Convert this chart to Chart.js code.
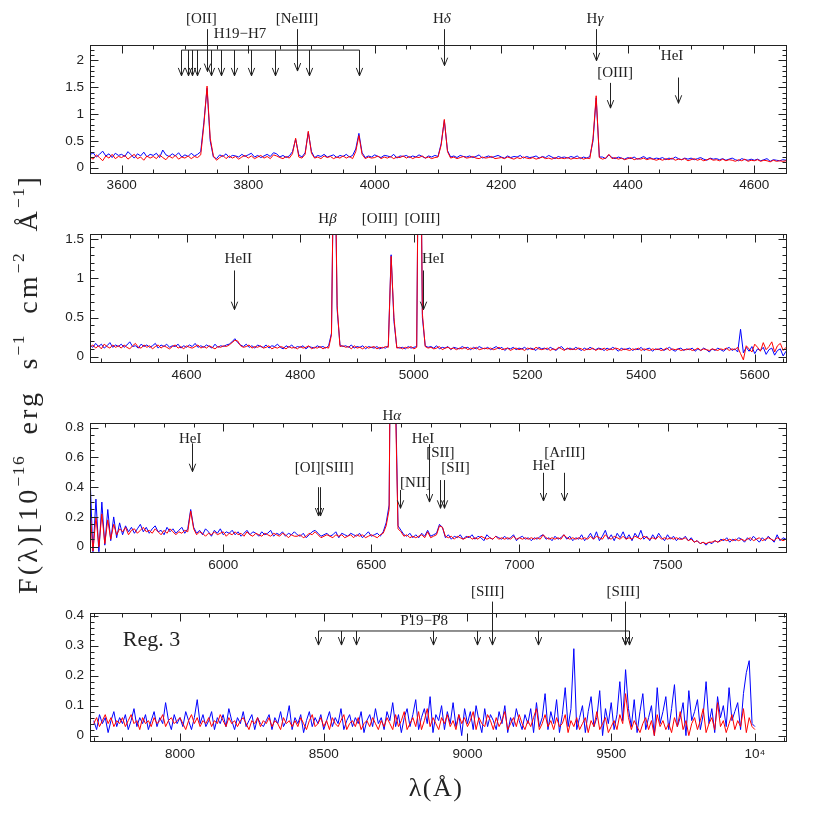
<!DOCTYPE html>
<html>
<head>
<meta charset="utf-8">
<script src="https://cdn.jsdelivr.net/npm/chart.js@4.4.1/dist/chart.umd.min.js"></script>
<style>
  body { margin: 0; background: #fff; }
  #wrap { position: relative; width: 830px; height: 830px; overflow: hidden; }
  canvas { position: absolute; left: 0; }
  .title { position: absolute; white-space: nowrap; color: #222; font-family: "Liberation Serif", "DejaVu Serif", serif; transform: translate(-50%, -50%); }
  #ytitle { left: 28px; top: 384px; font-size: 28px; letter-spacing: 3.2px; word-spacing: 10px; transform: translate(-50%, -50%) rotate(-90deg); }
  #ytitle sup { font-size: 0.62em; vertical-align: 0.75em; line-height: 0; letter-spacing: 1.5px; }
  #xtitle { left: 436px; top: 788px; font-size: 26px; letter-spacing: 1.5px; }
</style>
</head>
<body>
<div id="wrap">
  <canvas id="c1" width="830" height="200" style="top:0px"></canvas>
  <canvas id="c2" width="830" height="190" style="top:200px"></canvas>
  <canvas id="c3" width="830" height="190" style="top:390px"></canvas>
  <canvas id="c4" width="830" height="250" style="top:580px"></canvas>
  <div id="ytitle" class="title">F(λ)[10<sup>−16</sup> erg s<sup>−1</sup> cm<sup>−2</sup> Å<sup>−1</sup>]</div>
  <div id="xtitle" class="title">λ(Å)</div>
</div>
<script>
// ---- panel 1: 3550-4650 A, 5 A grid ----
var p1Start = 3550, p1Step = 5;
var p1Blue = [
  .24,.28,.20,.25,.31,.22,.26,.19,.27,.23, .25,.21,.30,.24,.18,.26,.22,.29,.20,.25,
  .23,.27,.19,.33,.24,.21,.26,.22,.28,.20, .24,.21,.27,.22,.25,.30,.85,1.48,.50,.20,
  .17,.24,.21,.26,.19,.23,.22,.20,.25,.21, .24,.27,.20,.23,.19,.22,.25,.21,.28,.26,
  .20,.23,.19,.22,.30,.53,.24,.20,.28,.66, .30,.19,.23,.21,.25,.20,.22,.24,.19,.23,
  .21,.25,.20,.23,.35,.64,.28,.19,.22,.20, .24,.21,.19,.23,.22,.20,.25,.18,.22,.21,
  .23,.19,.22,.20,.24,.21,.18,.22,.20,.23, .21,.45,.88,.32,.20,.22,.19,.23,.21,.20,
  .22,.19,.21,.24,.18,.20,.22,.19,.21,.23, .20,.18,.22,.19,.21,.20,.23,.18,.21,.19,
  .20,.22,.18,.21,.19,.23,.20,.17,.21,.19, .20,.18,.21,.19,.22,.17,.20,.18,.21,.50,
  1.30,.20,.20,.17,.24,.19,.17,.20,.18,.16, .19,.17,.20,.16,.18,.21,.17,.19,.16,.18,
  .17,.19,.15,.18,.16,.20,.17,.15,.18,.16, .18,.15,.17,.19,.16,.14,.18,.16,.17,.15,
  .17,.14,.16,.18,.15,.13,.17,.15,.14,.16, .14,.16,.13,.15,.17,.12,.15,.14,.13,.15,.14
];
var p1Red = [
  .20,.16,.24,.19,.13,.22,.18,.25,.17,.21, .19,.23,.16,.21,.25,.17,.20,.14,.22,.18,
  .21,.17,.24,.19,.15,.22,.18,.23,.16,.20, .18,.22,.17,.21,.19,.24,.80,1.52,.55,.22,
  .14,.19,.23,.17,.22,.18,.21,.16,.20,.23, .18,.22,.17,.20,.23,.18,.21,.17,.24,.22,
  .19,.17,.21,.18,.26,.55,.20,.18,.25,.68, .27,.18,.20,.17,.22,.19,.21,.17,.20,.18,
  .22,.18,.21,.17,.30,.60,.25,.17,.20,.18, .19,.22,.17,.20,.18,.21,.17,.20,.19,.22,
  .18,.21,.17,.20,.19,.22,.18,.20,.17,.19, .20,.42,.90,.30,.18,.20,.17,.19,.21,.18,
  .19,.21,.18,.17,.20,.18,.19,.21,.17,.18, .19,.17,.20,.18,.16,.19,.17,.20,.18,.17,
  .19,.16,.18,.20,.17,.18,.16,.19,.17,.18, .17,.19,.16,.18,.17,.19,.16,.18,.17,.55,
  1.34,.19,.16,.18,.25,.17,.19,.16,.18,.15, .17,.19,.15,.17,.16,.18,.15,.17,.16,.14,
  .16,.14,.17,.15,.18,.14,.16,.15,.17,.13, .15,.17,.14,.16,.13,.15,.17,.14,.15,.13,
  .16,.13,.15,.14,.12,.15,.13,.16,.12,.14, .13,.15,.12,.14,.13,.11,.14,.12,.13,.12,.13
];
var p1XTicks = [3600, 3800, 4000, 4200, 4400, 4600];
var p1YTicks = [0, 0.5, 1, 1.5, 2];
var p1HSeries = [3693.8, 3704.4, 3711.7, 3718.6, 3741.2, 3757.5, 3777.1, 3804.9, 3842.9, 3896.6, 3975.6];

// ---- panel 2: 4430-5655 A, 5 A grid ----
var p2Start = 4430, p2Step = 5;
var p2Blue = [
  .15,.12,.17,.13,.16,.11,.14,.18,.12,.15, .13,.16,.12,.15,.19,.13,.14,.11,.16,.13,
  .15,.12,.14,.17,.11,.15,.13,.16,.12,.14, .13,.16,.11,.14,.12,.15,.13,.17,.12,.14,
  .12,.15,.13,.11,.16,.12,.14,.13,.15,.16, .19,.23,.18,.15,.13,.16,.12,.14,.11,.15,
  .13,.12,.15,.11,.14,.13,.16,.12,.10,.14, .12,.15,.11,.13,.12,.14,.10,.13,.12,.11,
  .14,.12,.13,.11,.14,.30,3.2,.60,.15,.13, .14,.12,.15,.11,.13,.12,.14,.10,.13,.12,
  .11,.13,.10,.12,.11,.14,1.30,.45,.12,.11, .12,.10,.13,.11,.12,.13,4.5,.50,.14,.12,
  .13,.11,.14,.10,.12,.11,.13,.09,.12,.11, .10,.13,.11,.12,.09,.12,.10,.13,.11,.10,
  .12,.09,.11,.13,.10,.12,.08,.11,.10,.12, .09,.11,.10,.12,.09,.11,.10,.08,.12,.10,
  .11,.09,.12,.10,.08,.11,.13,.09,.10,.11, .09,.12,.10,.08,.11,.09,.12,.10,.09,.11,
  .10,.08,.11,.09,.12,.10,.07,.11,.09,.10, .11,.08,.10,.09,.12,.08,.10,.11,.07,.10,
  .09,.11,.08,.10,.12,.09,.07,.10,.11,.08, .10,.09,.11,.07,.10,.08,.11,.09,.06,.10,
  .08,.11,.09,.07,.10,.12,.08,.10,.06,.35, .05,.12,.07,.13,.04,.10,.08,.12,.03,.09,
  .11,.02,.08,.10,.01,.07
];
var p2Red = [
  .12,.15,.11,.14,.10,.16,.13,.11,.15,.12, .14,.11,.15,.12,.10,.14,.17,.12,.11,.15,
  .12,.14,.10,.13,.15,.11,.14,.12,.10,.13, .15,.11,.13,.10,.14,.12,.11,.13,.15,.11,
  .13,.11,.14,.12,.10,.13,.12,.14,.13,.15, .18,.21,.20,.14,.12,.13,.15,.11,.13,.12,
  .14,.11,.12,.14,.10,.12,.11,.13,.12,.10, .13,.11,.12,.10,.13,.11,.12,.14,.10,.12,
  .11,.13,.10,.12,.11,.28,3.3,.65,.13,.14, .12,.13,.10,.14,.11,.12,.10,.13,.11,.12,
  .13,.10,.12,.11,.13,.12,1.28,.50,.11,.12, .10,.12,.11,.13,.10,.12,4.6,.55,.13,.11,
  .12,.10,.11,.13,.09,.11,.12,.10,.11,.09, .11,.10,.12,.09,.11,.10,.12,.09,.10,.11,
  .10,.11,.09,.10,.12,.09,.10,.11,.08,.10, .11,.09,.10,.08,.11,.10,.09,.12,.10,.09,
  .10,.11,.08,.10,.09,.12,.10,.08,.11,.09, .10,.09,.11,.10,.08,.10,.09,.11,.08,.10,
  .09,.11,.08,.10,.09,.11,.10,.08,.10,.09, .08,.10,.09,.11,.08,.10,.09,.08,.10,.09,
  .10,.08,.09,.11,.08,.10,.09,.10,.08,.09, .09,.10,.08,.09,.11,.08,.10,.09,.08,.10,
  .09,.08,.10,.09,.11,.08,.10,.09,.12,.04, -.04,.14,.10,.06,.16,.12,.07,.18,.09,.13,
  .19,.06,.14,.17,.08,.12
];
var p2XTicks = [4600, 4800, 5000, 5200, 5400, 5600];
var p2YTicks = [0, 0.5, 1, 1.5];

// ---- panel 3: 5550-7900 A, 10 A grid ----
var p3Start = 5550, p3Step = 10;
var p3Blue = [
  .48,-.05,.32,-.04,.30,.01,.25,.04,.20,.06, .16,.08,.14,.10,.13,.09,.12,.15,.10,.13,
  .09,.12,.14,.10,.11,.08,.13,.10,.12,.09, .11,.13,.09,.12,.25,.13,.09,.11,.08,.12,
  .10,.07,.11,.09,.12,.08,.10,.09,.11,.08, .10,.07,.09,.11,.08,.10,.09,.07,.10,.08,
  .09,.11,.07,.09,.08,.10,.07,.09,.08,.10, .08,.07,.09,.06,.08,.10,.11,.09,.07,.08,
  .09,.07,.08,.10,.06,.09,.08,.07,.09,.08, .07,.09,.06,.08,.10,.07,.08,.09,.07,.10,
  .16,.28,2.8,1.2,.14,.11,.08,.07,.09,.06, .08,.06,.09,.07,.11,.07,.08,.09,.15,.13,
  .06,.08,.05,.07,.06,.08,.05,.07,.06,.08, .05,.07,.06,.04,.08,.06,.05,.07,.06,.05,
  .07,.05,.06,.08,.04,.06,.07,.05,.06,.04, .06,.05,.07,.08,.05,.06,.04,.07,.05,.06,
  .08,.05,.07,.04,.06,.05,.08,.04,.06,.09, .05,.10,.04,.07,.11,.05,.08,.04,.09,.06,
  .10,.05,.08,.04,.09,.06,.11,.05,.07,.04, .08,.05,.09,.06,.04,.08,.05,.07,.04,.06,
  .05,.07,.04,.06,.03,.04,.02,.03,.01,.03, .02,.04,.03,.05,.04,.06,.03,.05,.04,.06,
  .05,.03,.06,.04,.07,.05,.03,.06,.04,.07, .05,.03,.08,.04,.06,.05
];
var p3Red = [
  .25,-.03,.20,.00,.22,.02,.18,.05,.15,.08, .12,.10,.13,.08,.11,.12,.09,.11,.13,.10,
  .11,.09,.12,.10,.08,.11,.09,.12,.10,.08, .10,.09,.11,.10,.24,.12,.08,.10,.09,.07,
  .09,.08,.10,.08,.09,.10,.07,.09,.08,.10, .08,.09,.07,.10,.08,.07,.09,.08,.07,.09,
  .08,.07,.09,.08,.07,.09,.08,.06,.08,.07, .07,.08,.06,.07,.09,.08,.10,.08,.06,.07,
  .08,.07,.06,.08,.07,.08,.06,.07,.08,.06, .08,.07,.08,.06,.07,.08,.07,.06,.08,.09,
  .14,.25,3.0,1.1,.12,.10,.07,.08,.06,.07, .06,.07,.08,.06,.10,.06,.07,.08,.14,.13,
  .07,.06,.07,.05,.07,.06,.05,.06,.07,.05, .06,.05,.07,.06,.05,.06,.05,.07,.05,.06,
  .05,.06,.05,.07,.05,.06,.05,.06,.05,.06, .05,.06,.05,.08,.06,.05,.06,.05,.06,.05,
  .08,.06,.05,.06,.05,.06,.05,.06,.05,.07, .05,.07,.06,.05,.08,.06,.05,.07,.06,.05,
  .07,.05,.06,.05,.07,.06,.05,.07,.06,.05, .06,.05,.07,.05,.06,.05,.06,.05,.06,.05,
  .05,.06,.04,.05,.03,.04,.02,.03,.02,.03, .03,.04,.03,.04,.05,.04,.05,.04,.05,.04,
  .05,.04,.05,.06,.04,.05,.06,.04,.05,.06, .05,.04,.06,.05,.04,.05
];
var p3XTicks = [6000, 6500, 7000, 7500];
var p3YTicks = [0, 0.2, 0.4, 0.6, 0.8];

// ---- panel 4: 7700-10000 A, 10 A grid ----
var p4Start = 7700, p4Step = 10;
var p4Blue = [
  .05,.02,.07,.04,.06,.01,.05,.08,.03,.06, .04,.07,.02,.05,.09,.03,.06,.04,.07,.02,
  .05,.08,.03,.06,.04,.11,.05,.02,.07,.04, .06,.03,.08,.05,.02,.06,.12,.04,.07,.03,
  .05,.08,.02,.06,.04,.07,.03,.09,.05,.02, .06,.04,.08,.03,.05,.07,.02,.06,.04,.03,
  .05,.07,.02,.06,.04,.08,.03,.05,.10,.02, .06,.04,.07,.01,.05,.08,.03,.06,.04,.07,
  .02,.05,.08,.03,.06,.04,.09,.02,.05,.07, .03,.06,.04,.08,.01,.05,.07,.03,.09,.04,
  .06,.02,.08,.05,.11,.03,.07,.01,.06,.09, .03,.07,.12,.02,.06,.09,.04,.13,.01,.07,
  .05,.10,.02,.08,.04,.11,.03,.07,.00,.09, .04,.08,.02,.10,.05,.01,.09,.03,.07,.05,
  .02,.08,.04,.10,.01,.06,.03,.09,.05,.02, .07,.04,.09,.01,.11,.03,.06,.14,.02,.08,
  .04,.12,.01,.07,.16,.03,.09,.29,.02,.06, .10,.01,.08,.13,.03,.06,.15,.00,.09,.04,
  .11,.02,.07,.18,.05,.22,.09,.03,.12,.01, .08,.14,.02,.06,.10,.00,.16,.04,.08,.13,
  .02,.09,.17,.03,.06,.11,.00,.15,.05,.08, .12,.02,.07,.18,.04,.09,.01,.13,.06,.10,
  .03,.16,.05,.08,.11,.02,.14,.21,.25,.04, .03
];
var p4Red = [
  .04,.06,.03,.05,.07,.04,.06,.03,.05,.04, .06,.03,.05,.07,.04,.05,.02,.06,.04,.05,
  .03,.06,.04,.05,.07,.03,.05,.06,.04,.05, .06,.04,.02,.05,.07,.04,.06,.03,.05,.04,
  .06,.03,.05,.04,.07,.05,.03,.06,.04,.05, .03,.05,.06,.04,.02,.05,.04,.06,.03,.05,
  .04,.06,.03,.05,.04,.02,.06,.04,.05,.03, .05,.03,.06,.04,.02,.05,.07,.03,.04,.06,
  .03,.05,.02,.06,.04,.03,.05,.07,.02,.04, .05,.03,.06,.02,.04,.05,.03,.06,.04,.02,
  .05,.03,.06,.04,.02,.07,.03,.05,.08,.02, .04,.06,.03,.08,.02,.05,.09,.03,.06,.04,
  .02,.06,.04,.07,.03,.05,.02,.07,.04,.06, .03,.05,.08,.02,.06,.04,.03,.07,.05,.02,
  .06,.03,.05,.08,.02,.04,.06,.03,.07,.04, .02,.05,.03,.06,.09,.02,.04,.07,.03,.05,
  .02,.06,.03,.04,.07,.01,.05,.03,.06,.02, .04,.06,.01,.05,.03,.08,.02,.04,.06,.01,
  .03,.05,.02,.07,.04,.14,.06,.02,.05,.03, .01,.04,.06,.02,.05,.00,.07,.03,.05,.02,
  .04,.01,.06,.03,.08,.02,.05,.00,.04,.06, .02,.05,.09,.01,.04,.06,.02,.11,.03,.05,
  .01,.04,.07,.02,.05,.03,.09,.01,.06,.03, .02
];
var p4XTicks = [8000, 8500, 9000, 9500, 10000];
var p4YTicks = [0, 0.1, 0.2, 0.3, 0.4];
var p4Paschen = [8481, 8560, 8612, 8881, 9032, 9244, 9548, 9563];

var INK = '#222';
var LABEL_FONT = '15px "Liberation Serif", "DejaVu Serif", serif';
var TICK_FONT = { family: '"Liberation Sans", Arial, sans-serif', size: 13.5 };

function toPoints(start, step, flux) {
  return flux.map(function(f, i) { return { x: start + i * step, y: f }; });
}

function fmt(v) {
  if (v === 10000) return '10\u2074';
  return String(Math.round(v * 1000) / 1000);
}

// label text, greek letter after H drawn in italic
function drawLabel(ctx, text, x, y, font, align) {
  ctx.font = font || LABEL_FONT;
  ctx.textBaseline = 'middle';
  var m = text.match(/^H([αβγδ])$/);
  if (!m) {
    ctx.textAlign = align || 'center';
    ctx.fillText(text, x, y);
    return;
  }
  var w1 = ctx.measureText('H').width;
  ctx.font = 'italic ' + LABEL_FONT;
  var w2 = ctx.measureText(m[1]).width;
  var x0 = x - (w1 + w2) / 2;
  ctx.textAlign = 'left';
  ctx.font = LABEL_FONT;
  ctx.fillText('H', x0, y);
  ctx.font = 'italic ' + LABEL_FONT;
  ctx.fillText(m[1], x0 + w1, y);
}

function drawArrow(ctx, px, yTop, yTip) {
  ctx.beginPath();
  ctx.moveTo(px, yTop);
  ctx.lineTo(px, yTip);
  ctx.moveTo(px - 3.2, yTip - 8);
  ctx.lineTo(px, yTip);
  ctx.lineTo(px + 3.2, yTip - 8);
  ctx.stroke();
}

function specPlugin(cfg) {
  return {
    id: 'spec_' + cfg.id,
    afterDraw: function(chart) {
      var ctx = chart.ctx, a = chart.chartArea;
      var xs = chart.scales.x, ys = chart.scales.y;
      var L = Math.round(a.left) + 0.5, R = Math.round(a.right) + 0.5;
      var T = Math.round(a.top) + 0.5, B = Math.round(a.bottom) + 0.5;
      ctx.save();
      ctx.strokeStyle = INK;
      ctx.fillStyle = INK;
      ctx.lineWidth = 1;
      ctx.strokeRect(L, T, R - L, B - T);

      // inside ticks on all four sides
      ctx.beginPath();
      var k, p, len, ratio;
      ratio = Math.round(cfg.xMajor / cfg.xMinor);
      for (k = Math.ceil(xs.min / cfg.xMinor); k * cfg.xMinor <= xs.max; k++) {
        p = Math.round(xs.getPixelForValue(k * cfg.xMinor)) + 0.5;
        len = (k % ratio === 0) ? 8 : 4;
        ctx.moveTo(p, B); ctx.lineTo(p, B - len);
        ctx.moveTo(p, T); ctx.lineTo(p, T + len);
      }
      ratio = Math.round(cfg.yMajor / cfg.yMinor);
      for (k = Math.ceil(ys.min / cfg.yMinor - 1e-9); k * cfg.yMinor <= ys.max + 1e-9; k++) {
        p = Math.round(ys.getPixelForValue(k * cfg.yMinor)) + 0.5;
        len = (k % ratio === 0) ? 8 : 4;
        ctx.moveTo(L, p); ctx.lineTo(L + len, p);
        ctx.moveTo(R, p); ctx.lineTo(R - len, p);
      }
      ctx.stroke();

      var X = function(w) { return Math.round(xs.getPixelForValue(w)) + 0.5; };
      var Y = function(f) { return ys.getPixelForValue(f); };

      (cfg.brackets || []).forEach(function(b) {
        ctx.beginPath();
        ctx.moveTo(X(b.xs[0]), Y(b.y));
        ctx.lineTo(X(b.xs[b.xs.length - 1]), Y(b.y));
        ctx.stroke();
        b.xs.forEach(function(w) { drawArrow(ctx, X(w), Y(b.y), Y(b.to)); });
      });
      (cfg.arrows || []).forEach(function(ar) { drawArrow(ctx, X(ar.x), Y(ar.from), Y(ar.to)); });
      (cfg.labels || []).forEach(function(lb) {
        drawLabel(ctx, lb.t, xs.getPixelForValue(lb.x), Y(lb.y), lb.font, lb.align);
      });
      ctx.restore();
    }
  };
}

function makePanel(canvasId, cfg) {
  var tickOpts = function(extra) {
    return Object.assign({ font: TICK_FONT, color: INK, autoSkip: false, maxRotation: 0, callback: function(v) { return fmt(v); } }, extra);
  };
  return new Chart(document.getElementById(canvasId), {
    type: 'line',
    data: {
      datasets: [
        { data: toPoints(cfg.start, cfg.step, cfg.red), borderColor: '#ff0000', borderWidth: 1, pointRadius: 0, fill: false, tension: 0 },
        { data: toPoints(cfg.start, cfg.step, cfg.blue), borderColor: '#0000ff', borderWidth: 1, pointRadius: 0, fill: false, tension: 0 }
      ]
    },
    options: {
      responsive: false,
      animation: false,
      events: [],
      layout: { padding: { top: cfg.padTop, right: 44, left: 0, bottom: 0 } },
      plugins: { legend: { display: false }, tooltip: { enabled: false } },
      scales: {
        x: {
          type: 'linear', min: cfg.xMin, max: cfg.xMax,
          grid: { display: false, drawTicks: false }, border: { display: false },
          ticks: tickOpts({ padding: 5 }),
          afterBuildTicks: function(s) { s.ticks = cfg.xTicks.map(function(t) { return { value: t }; }); },
          afterFit: function(s) { s.height = cfg.axisH; }
        },
        y: {
          type: 'linear', min: cfg.yMin, max: cfg.yMax,
          grid: { display: false, drawTicks: false }, border: { display: false },
          ticks: tickOpts({ padding: 6 }),
          afterBuildTicks: function(s) { s.ticks = cfg.yTicks.map(function(t) { return { value: t }; }); },
          afterFit: function(s) { s.width = 90; }
        }
      }
    },
    plugins: [specPlugin(cfg)]
  });
}

makePanel('c1', {
  id: 1, start: p1Start, step: p1Step, blue: p1Blue, red: p1Red,
  xMin: 3550, xMax: 4650, yMin: -0.09, yMax: 2.285, xTicks: p1XTicks, yTicks: p1YTicks,
  xMajor: 200, xMinor: 50, yMajor: 0.5, yMinor: 0.1, padTop: 45, axisH: 27.4,
  brackets: [{ xs: p1HSeries, y: 2.19, to: 1.71 }],
  arrows: [
    { x: 3734.4, from: 2.58, to: 1.79 }, { x: 3876.7, from: 2.58, to: 1.80 },
    { x: 4109.5, from: 2.58, to: 1.90 }, { x: 4349.3, from: 2.58, to: 1.99 },
    { x: 4371.9, from: 1.58, to: 1.11 }, { x: 4479.8, from: 1.68, to: 1.20 }
  ],
  labels: [
    { t: '[OII]', x: 3726, y: 2.76 }, { t: 'H19\u2212H7', x: 3787, y: 2.48 },
    { t: '[NeIII]', x: 3877, y: 2.76 }, { t: 'Hδ', x: 4106, y: 2.76 },
    { t: 'Hγ', x: 4348, y: 2.76 }, { t: '[OIII]', x: 4380, y: 1.76 },
    { t: 'HeI', x: 4470, y: 2.07 }
  ]
});

makePanel('c2', {
  id: 2, start: p2Start, step: p2Step, blue: p2Blue, red: p2Red,
  xMin: 4430, xMax: 5655, yMin: -0.071, yMax: 1.561, xTicks: p2XTicks, yTicks: p2YTicks,
  xMajor: 200, xMinor: 50, yMajor: 0.5, yMinor: 0.1, padTop: 34.3, axisH: 27.7,
  arrows: [ { x: 4683, from: 1.10, to: 0.60 }, { x: 5016.6, from: 1.10, to: 0.60 } ],
  labels: [
    { t: 'Hβ', x: 4848, y: 1.75 }, { t: '[OIII]', x: 4940, y: 1.75 },
    { t: '[OIII]', x: 5015, y: 1.75 }, { t: 'HeII', x: 4691, y: 1.24 },
    { t: 'HeI', x: 5034, y: 1.24 }
  ]
});

makePanel('c3', {
  id: 3, start: p3Start, step: p3Step, blue: p3Blue, red: p3Red,
  xMin: 5550, xMax: 7900, yMin: -0.034, yMax: 0.83, xTicks: p3XTicks, yTicks: p3YTicks,
  xMajor: 500, xMinor: 100, yMajor: 0.2, yMinor: 0.05, padTop: 33.3, axisH: 28.3,
  arrows: [
    { x: 5894, from: 0.695, to: 0.504 }, { x: 6318.6, from: 0.40, to: 0.206 },
    { x: 6327.7, from: 0.40, to: 0.206 }, { x: 6598, from: 0.381, to: 0.258 },
    { x: 6693.6, from: 0.69, to: 0.30 }, { x: 6730.7, from: 0.448, to: 0.258 },
    { x: 6744, from: 0.448, to: 0.258 }, { x: 7080, from: 0.497, to: 0.307 },
    { x: 7149.7, from: 0.497, to: 0.307 }
  ],
  labels: [
    { t: 'HeI', x: 5888.5, y: 0.722 }, { t: '[OI][SIII]', x: 6341, y: 0.527 },
    { t: 'Hα', x: 6569, y: 0.879 }, { t: '[NII]', x: 6649, y: 0.43 },
    { t: 'HeI', x: 6674, y: 0.722 }, { t: '[SII]', x: 6733, y: 0.628 },
    { t: '[SII]', x: 6784, y: 0.527 }, { t: 'HeI', x: 7082, y: 0.543 },
    { t: '[ArIII]', x: 7153, y: 0.628 }
  ]
});

makePanel('c4', {
  id: 4, start: p4Start, step: p4Step, blue: p4Blue, red: p4Red,
  xMin: 7687, xMax: 10108, yMin: -0.018, yMax: 0.408, xTicks: p4XTicks, yTicks: p4YTicks,
  xMajor: 500, xMinor: 100, yMajor: 0.1, yMinor: 0.02, padTop: 33.3, axisH: 89,
  brackets: [{ xs: p4Paschen, y: 0.349, to: 0.302 }],
  arrows: [ { x: 9084, from: 0.447, to: 0.302 }, { x: 9548, from: 0.447, to: 0.302 } ],
  labels: [
    { t: 'P19\u2212P8', x: 8849, y: 0.383 }, { t: '[SIII]', x: 9070, y: 0.48 },
    { t: '[SIII]', x: 9542, y: 0.48 },
    { t: 'Reg. 3', x: 7801, y: 0.317, align: 'left', font: '22px "Liberation Serif", "DejaVu Serif", serif' }
  ]
});
</script>
</body>
</html>
